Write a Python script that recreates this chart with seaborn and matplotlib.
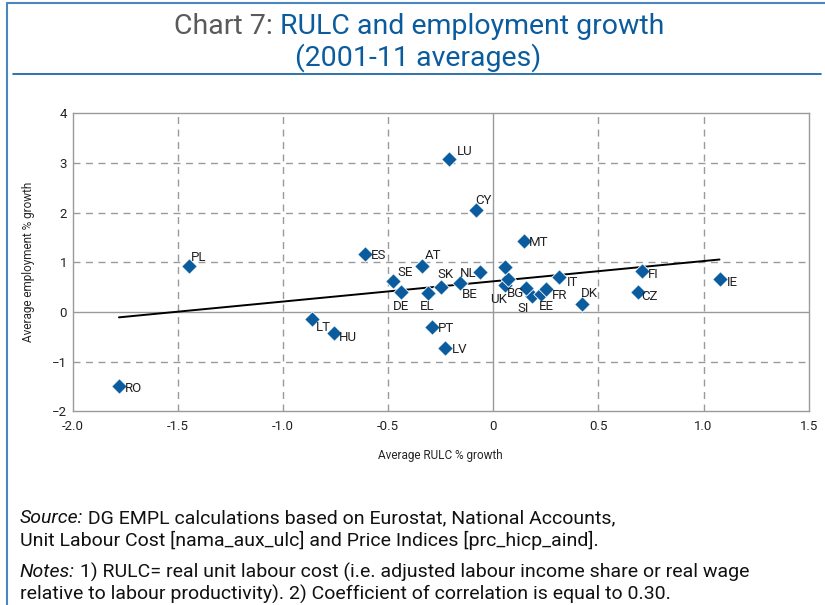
import numpy as np
import pandas as pd
import matplotlib
matplotlib.use("Agg")
import matplotlib.pyplot as plt
from matplotlib.lines import Line2D
import seaborn as sns

# data (2001-11 averages)
countries = ["RO", "PL", "ES", "SE", "DE", "AT", "EL", "LT", "HU", "PT",
             "LU", "CY", "MT", "SK", "BE", "NL", "LV", "UK", "BG", "",
             "SI", "", "EE", "FR", "IT", "DK", "FI", "CZ", "IE"]
rulc_growth = [-1.78, -1.445, -0.61, -0.475, -0.44, -0.337, -0.312, -0.864, -0.757, -0.293,
               -0.211, -0.083, 0.144, -0.249, -0.157, -0.065, -0.228, 0.054, 0.071, 0.054,
               0.182, 0.157, 0.228, 0.252, 0.315, 0.423, 0.707, 0.688, 1.076]
emp_growth = [-1.50, 0.93, 1.17, 0.63, 0.40, 0.93, 0.39, -0.14, -0.43, -0.31,
              3.08, 2.05, 1.43, 0.51, 0.59, 0.80, -0.72, 0.54, 0.66, 0.91,
              0.32, 0.49, 0.36, 0.46, 0.70, 0.16, 0.82, 0.40, 0.66]

x_ticks = [-2.0, -1.5, -1.0, -0.5, 0, 0.5, 1.0, 1.5]
x_tick_labels = ["-2.0", "-1.5", "-1.0", "-0.5", "0", "0.5", "1.0", "1.5"]
y_ticks = [-2, -1, 0, 1, 2, 3, 4]

# label placement (pixel offsets of label centre from the marker)
label_offsets = {
    "RO": (15, -2), "PL": (9, 8), "ES": (14, -2), "SE": (12, 8), "DE": (0, -14),
    "AT": (11, 10), "EL": (0, -14), "LT": (12, -9), "HU": (14, -4), "PT": (14, -1),
    "LU": (16, 8), "CY": (8, 10), "MT": (15, -2), "SK": (5, 12), "BE": (10, -12),
    "NL": (-11, -1), "UK": (-6, -14), "BG": (7, -14), "SI": (-8, -12), "EE": (5, -12),
    "FR": (13, -6), "IT": (13, -5), "DK": (7, 11), "FI": (11, -3), "CZ": (12, -4),
    "IE": (13, -3), "LV": (14, -2),
}

BLUE = "#0b5c9e"
GREY_TXT = "#5a5a5a"
GRID = "#9a9a9a"

sns.set_style("white")
plt.rcParams["font.family"] = ["Roboto", "DejaVu Sans"]

df = pd.DataFrame({"country": countries, "rulc": rulc_growth, "emp": emp_growth})

fig = plt.figure(figsize=(8.25, 6.05), dpi=100)
ax = fig.add_axes([0.0881, 0.3202, 0.8921, 0.4925])

# grid: dashed, zero lines solid
for xv in x_ticks[1:-1]:
    if xv == 0:
        ax.axvline(0, color=GRID, lw=1.0, zorder=1)
    else:
        ax.axvline(xv, color=GRID, lw=1.0, ls=(0, (5, 4)), zorder=1)
for yv in y_ticks[1:-1]:
    if yv == 0:
        ax.axhline(0, color=GRID, lw=1.0, zorder=1)
    else:
        ax.axhline(yv, color=GRID, lw=1.0, ls=(0, (5, 4)), zorder=1)

sns.regplot(data=df, x="rulc", y="emp", scatter=False, ci=None, ax=ax,
            line_kws={"color": "black", "lw": 1.4, "zorder": 2})
sns.scatterplot(data=df, x="rulc", y="emp", marker="D", s=62, color=BLUE,
                edgecolor="white", linewidth=0.6, ax=ax, zorder=3)

for c, xv, yv in zip(countries, rulc_growth, emp_growth):
    if not c:
        continue
    dx, dy = label_offsets[c]
    ax.annotate(c, (xv, yv), xytext=(dx, dy), textcoords="offset pixels",
                ha="center", va="center", fontsize=9.5, color="#222222", zorder=4)

ax.set_xlim(-2.0, 1.5)
ax.set_ylim(-2, 4)
ax.set_xticks(x_ticks)
ax.set_xticklabels(x_tick_labels)
ax.set_yticks(y_ticks)
ax.tick_params(axis="both", labelsize=9.5, length=0, colors="#222222")
ax.tick_params(axis="x", pad=6)
ax.tick_params(axis="y", pad=4)
for s in ax.spines.values():
    s.set_color(GRID)
    s.set_linewidth(1.0)
ax.set_xlabel("Average RULC % growth", fontsize=8.5, labelpad=12)
ax.set_ylabel("Average employment % growth", fontsize=8.5, labelpad=12)

# title
fig.text(0.340, 0.957, "Chart 7: ", color=GREY_TXT, fontsize=20.5, ha="right", va="center")
fig.text(0.340, 0.957, "RULC and employment growth", color=BLUE, fontsize=20.5,
         ha="left", va="center")
fig.text(0.507, 0.905, "(2001-11 averages)", color=BLUE, fontsize=20.5, ha="center", va="center")

# frame lines
fig.add_artist(Line2D([0.016, 0.995], [0.877, 0.877], color=BLUE, lw=1.2))
fig.add_artist(Line2D([0.0085, 0.0085], [0.0, 0.995], color="#4a86c0", lw=1.5))
fig.add_artist(Line2D([0.0085, 1.0], [0.995, 0.995], color="#4a86c0", lw=1.5))

# footnotes
notes = [
    (0.144, "Source:", "DG EMPL calculations based on Eurostat, National Accounts,"),
    (0.106, "", "Unit Labour Cost [nama_aux_ulc] and Price Indices [prc_hicp_aind]."),
    (0.054, "Notes:", "1) RULC= real unit labour cost (i.e. adjusted labour income share or real wage"),
    (0.018, "", "relative to labour productivity). 2) Coefficient of correlation is equal to 0.30."),
]
for yy, lead, rest in notes:
    if lead:
        t = fig.text(0.024, yy, lead, fontsize=14, style="italic", color="#111111",
                     ha="left", va="center")
        fig.canvas.draw()
        ax.annotate(" " + rest, xy=(1, 0.5), xycoords=t, fontsize=14, color="#111111",
                    ha="left", va="center", annotation_clip=False)
    else:
        fig.text(0.024, yy, rest, fontsize=14, color="#111111", ha="left", va="center")

fig.savefig("out.png", dpi=100)
